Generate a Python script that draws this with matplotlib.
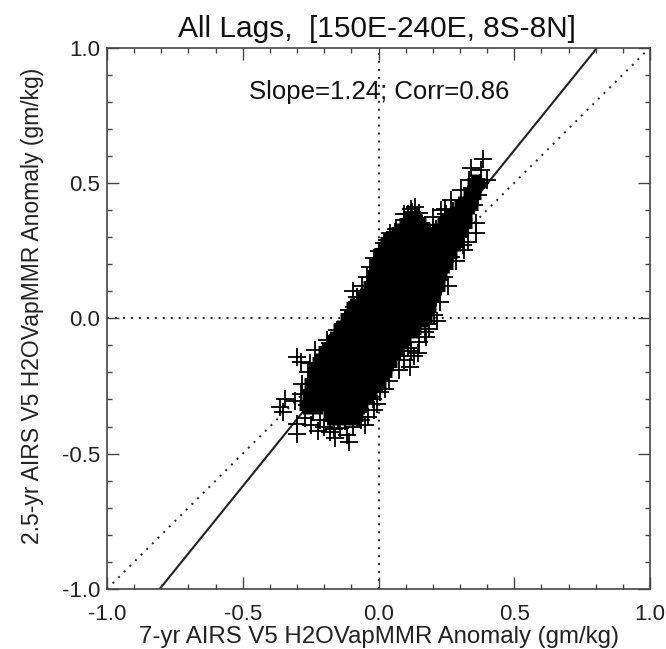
import matplotlib
matplotlib.use('Agg')
import matplotlib.pyplot as plt
from matplotlib.ticker import MultipleLocator

plt.rcParams['font.family'] = ['Liberation Sans', 'DejaVu Sans']

title = 'All Lags,  [150E-240E, 8S-8N]'
note = 'Slope=1.24; Corr=0.86'
x_label = '7-yr AIRS V5 H2OVapMMR Anomaly (gm/kg)'
y_label = '2.5-yr AIRS V5 H2OVapMMR Anomaly (gm/kg)'
tick_vals = [-1.0, -0.5, 0.0, 0.5, 1.0]

fit_x = [-0.806, 0.806]
fit_y = [-1.0, 1.0]
one_x = [-1.0, 1.0]
one_y = [-1.0, 1.0]

# crosses around the edge of the cloud
edge_x = [0.384, 0.378, 0.341, 0.400, 0.335, 0.304, 0.267, 0.365, 0.360, 0.360, 0.316, 0.230,
          0.125, 0.094, 0.156, 0.066, 0.140, 0.110, 0.200, 0.250, 0.290, 0.330, 0.345, 0.375,
          -0.301, -0.285, -0.233, -0.363, -0.344, -0.350, -0.301, -0.301, -0.222, -0.159, -0.110,
          -0.117, -0.048, -0.040, -0.005, 0.007, 0.093, 0.148, 0.204, 0.240, 0.267, 0.285,
          -0.079, -0.110, -0.042, -0.018, 0.019, 0.044, -0.153, -0.190, -0.252, -0.283, -0.307,
          -0.095, -0.060, -0.030, 0.000, 0.030, 0.060, 0.120, 0.170, 0.185, 0.225, 0.255,
          -0.260, -0.200, -0.180, -0.130, -0.090, -0.150, -0.200, -0.075, -0.015, 0.040,
          -0.165, -0.125, -0.240, -0.215, -0.285, -0.265, 0.075, 0.110, 0.130, 0.175, 0.215,
          0.310, 0.270, 0.295, 0.100, 0.130, 0.170, 0.210, 0.330, 0.350,
          -0.270, -0.250, -0.180, -0.140, -0.095, -0.065, -0.020, 0.025, 0.115, 0.145, 0.185,
          0.120, 0.095, 0.135, 0.150, 0.245, 0.275, 0.300]
edge_y = [0.590, 0.548, 0.555, 0.511, 0.511, 0.474, 0.437, 0.456, 0.315, 0.350, 0.252, 0.400,
          0.394, 0.363, 0.351, 0.330, 0.370, 0.385, 0.375, 0.385, 0.400, 0.420, 0.480, 0.500,
          -0.143, -0.160, -0.119, -0.329, -0.297, -0.345, -0.427, -0.390, -0.415, -0.444, -0.458,
          -0.430, -0.396, -0.365, -0.315, -0.274, -0.156, -0.088, 0.011, 0.152, 0.226, 0.210,
          0.078, 0.030, 0.152, 0.222, 0.278, 0.315, -0.044, -0.081, -0.167, -0.241, -0.304,
          0.100, 0.120, 0.190, 0.250, 0.290, 0.320, -0.120, -0.050, -0.020, 0.060, 0.120,
          -0.200, -0.140, -0.090, -0.020, 0.040, -0.380, -0.400, -0.345, -0.340, -0.230,
          -0.410, -0.380, -0.345, -0.375, -0.280, -0.320, -0.190, -0.110, -0.140, -0.070, -0.010,
          0.270, 0.300, 0.330, 0.340, 0.300, 0.345, 0.330, 0.280, 0.420,
          -0.370, -0.395, -0.420, -0.405, -0.400, -0.375, -0.300, -0.260, -0.180, -0.130, -0.040,
          0.405, 0.385, 0.410, 0.390, 0.405, 0.395, 0.385]

# solid middle of the cloud, y level then the x values on that level
core_rows = [
    (-0.36, [-0.17, -0.13, -0.09]),
    (-0.32, [-0.26, -0.225, -0.18, -0.135, -0.09, -0.07]),
    (-0.28, [-0.25, -0.215, -0.17, -0.125, -0.08, -0.04]),
    (-0.24, [-0.24, -0.2, -0.155, -0.11, -0.065, -0.02, -0.005]),
    (-0.20, [-0.23, -0.19, -0.145, -0.1, -0.055, -0.01, 0.015]),
    (-0.16, [-0.21, -0.17, -0.125, -0.08, -0.035, 0.01, 0.035]),
    (-0.12, [-0.19, -0.15, -0.105, -0.06, -0.015, 0.03, 0.06]),
    (-0.08, [-0.16, -0.12, -0.075, -0.03, 0.015, 0.06, 0.085]),
    (-0.04, [-0.135, -0.095, -0.05, -0.005, 0.04, 0.085, 0.125]),
    (0.00, [-0.11, -0.07, -0.025, 0.02, 0.065, 0.11, 0.165]),
    (0.04, [-0.085, -0.045, 0.0, 0.045, 0.09, 0.135, 0.18]),
    (0.08, [-0.05, -0.01, 0.035, 0.08, 0.125, 0.17, 0.195]),
    (0.12, [-0.025, 0.02, 0.065, 0.11, 0.155, 0.19, 0.21]),
    (0.16, [-0.01, 0.035, 0.08, 0.125, 0.17, 0.22]),
    (0.20, [0.0, 0.045, 0.09, 0.135, 0.18, 0.225, 0.24]),
    (0.24, [0.015, 0.06, 0.105, 0.15, 0.195, 0.24, 0.255]),
    (0.28, [0.04, 0.085, 0.13, 0.175, 0.22, 0.265, 0.28]),
    (0.32, [0.08, 0.125, 0.17, 0.215, 0.26, 0.295]),
    (0.35, [0.11, 0.14, 0.25, 0.28, 0.31]),
    (0.38, [0.28, 0.31]),
    (0.42, [0.31, 0.335]),
    (0.46, [0.345]),
    (0.50, [0.36]),
]

fig = plt.figure(figsize=(6.66, 6.49), dpi=100)
ax = fig.add_axes([107 / 666, 1 - 589 / 649, 543 / 666, 541.5 / 649])

dots = (0, (1, 3.1))
ax.plot(fit_x, fit_y, color='#222222', lw=1.5, zorder=1)
ax.plot(one_x, one_y, color='#222222', lw=1.4, ls=dots, zorder=1)
ax.axhline(0, color='#222222', lw=1.4, ls=dots, zorder=1)
ax.axvline(0, color='#222222', lw=1.4, ls=dots, zorder=1)

for y, xs in core_rows:
    ax.plot(xs, [y] * len(xs), ls='none', marker='+', ms=13, mew=8, color='k', zorder=3)
ax.plot(edge_x, edge_y, ls='none', marker='+', ms=13, mew=1.3, color='k', zorder=3)

ax.set_xlim(-1, 1)
ax.set_ylim(-1, 1)
ax.set_xticks(tick_vals)
ax.set_yticks(tick_vals)
ax.set_xticklabels([f'{v:.1f}' for v in tick_vals])
ax.set_yticklabels([f'{v:.1f}' for v in tick_vals])
ax.xaxis.set_minor_locator(MultipleLocator(0.1))
ax.yaxis.set_minor_locator(MultipleLocator(0.1))
ax.tick_params(which='major', direction='in', top=True, right=True, length=8.5, width=1, color='#444444',
               labelsize=16, labelcolor='#222222')
ax.tick_params(which='minor', direction='in', top=True, right=True, length=3.5, width=1, color='#444444')
ax.tick_params(axis='x', pad=10.5)
ax.tick_params(axis='y', pad=5)
for s in ax.spines.values():
    s.set_color('#444444')
    s.set_linewidth(1.2)

fig.text(377 / 666, 1 - 29 / 649, title, ha='center', va='center', fontsize=21.5, color='#111111')
fig.text(379 / 666, 1 - 92 / 649, note, ha='center', va='center', fontsize=18.5, color='#111111')
fig.text(379 / 666, 1 - 637 / 649, x_label, ha='center', va='center', fontsize=17.3, color='#222222')
fig.text(33 / 666, 1 - 306 / 649, y_label, ha='center', va='center', rotation=90, fontsize=16.5, color='#222222')

fig.savefig('out.png', dpi=100)
